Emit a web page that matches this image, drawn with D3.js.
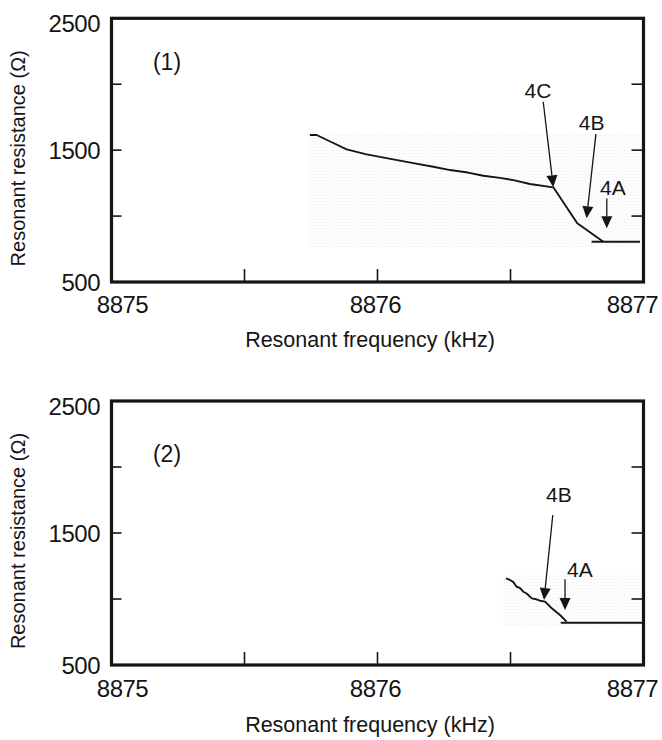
<!DOCTYPE html>
<html><head><meta charset="utf-8">
<script src="https://cdn.jsdelivr.net/npm/d3@7"></script>
<style>
body{margin:0;background:#fff}
svg{display:block}
text{font-family:"Liberation Sans",Arial,Helvetica,sans-serif;fill:#151515}
</style>
</head><body>
<svg id="chart" width="662" height="740"></svg>
<script>
// ---------- data ----------
const xDomain = [8875, 8877];
const yDomain = [500, 2500];
const xTickLabels = [8875, 8876, 8877];
const xInnerTicks = [8875.5, 8876, 8876.5];
const yTickLabels = [500, 1500, 2500];
const yInnerTicks = [1000, 1500, 2000];
const panelLabels = ["(1)", "(2)"];
const xTitle = "Resonant frequency (kHz)";
const yTitle = "Resonant resistance (\u03A9)";

// panel (1)
const freq1 = [8875.746, 8875.771, 8875.830, 8875.884, 8875.959, 8876.059, 8876.140, 8876.210, 8876.273, 8876.340, 8876.398, 8876.460, 8876.511, 8876.573, 8876.661, 8876.751, 8876.849];
const res1  = [1615, 1615, 1558, 1506, 1468, 1430, 1400, 1374, 1349, 1330, 1306, 1290, 1273, 1243, 1218, 945, 805];
const plateauFreq1 = [8876.805, 8876.987];
const plateauRes1  = [805, 805];
const shadeFreq1 = [8875.739, 8876.987];
const shadeRes1  = [766, 1629];
const annotLabels1 = ["4C", "4B", "4A"];
const annotTipF1   = [8876.661, 8876.786, 8876.862];
const annotTipR1   = [1218, 983, 907];
const annotTailF1  = [8876.623, 8876.821, 8876.862];
const annotTailR1  = [1867, 1622, 1134];
const annotTextF1  = [8876.603, 8876.805, 8876.885];
const annotTextR1  = [1895, 1653, 1159];

// panel (2)
const freq2 = [8876.483, 8876.498, 8876.510, 8876.523, 8876.535, 8876.548, 8876.562, 8876.580, 8876.597, 8876.611, 8876.630, 8876.655, 8876.686, 8876.711];
const res2  = [1157, 1144, 1130, 1093, 1085, 1055, 1040, 1005, 998, 987, 980, 930, 879, 828];
const plateauFreq2 = [8876.689, 8876.997];
const plateauRes2  = [820, 820];
const shadeFreq2 = [8876.472, 8876.987];
const shadeRes2  = [788, 1182];
const annotLabels2 = ["4B", "4A"];
const annotTipF2   = [8876.626, 8876.705];
const annotTipR2   = [992, 917];
const annotTailF2  = [8876.659, 8876.705];
const annotTailR2  = [1636, 1149];
const annotTextF2  = [8876.682, 8876.761];
const annotTextR2  = [1735, 1167];

// ---------- layout ----------
const left = 111.5, right = 643.5;
const layouts = [
  {top: 18.3, bottom: 282, labelBase: 52, titleDy: 65, tickDy: 31},
  {top: 401, bottom: 665, labelBase: 61, titleDy: 67, tickDy: 32}
];
const series = [
  {f: freq1, r: res1, pf: plateauFreq1, pr: plateauRes1, sf: shadeFreq1, sr: shadeRes1,
   al: annotLabels1, tf: annotTipF1, tr: annotTipR1, lf: annotTailF1, lr: annotTailR1, xf: annotTextF1, xr: annotTextR1},
  {f: freq2, r: res2, pf: plateauFreq2, pr: plateauRes2, sf: shadeFreq2, sr: shadeRes2,
   al: annotLabels2, tf: annotTipF2, tr: annotTipR2, lf: annotTailF2, lr: annotTailR2, xf: annotTextF2, xr: annotTextR2}
];
const xLabelShift = [11, -2, -11];
const ink = "#151515";

const svg = d3.select("#chart");
const defs = svg.append("defs");
const pat = defs.append("pattern").attr("id", "stipple")
  .attr("width", 3).attr("height", 3).attr("patternUnits", "userSpaceOnUse");
pat.append("rect").attr("width", 3).attr("height", 3).attr("fill", "#fdfdfd");
pat.append("rect").attr("width", 1).attr("height", 1).attr("fill", "#f0f0f0");

const x = d3.scaleLinear().domain(xDomain).range([left, right]);

layouts.forEach((L, i) => {
  const S = series[i];
  const y = d3.scaleLinear().domain(yDomain).range([L.bottom, L.top]);
  const g = svg.append("g");

  // faint stippled background behind the trace
  g.append("rect")
    .attr("x", x(S.sf[0])).attr("y", y(S.sr[1]))
    .attr("width", x(S.sf[1]) - x(S.sf[0])).attr("height", y(S.sr[0]) - y(S.sr[1]))
    .attr("fill", "url(#stipple)");

  // inner ticks
  const tl = 12;
  g.selectAll(".yl").data(yInnerTicks).join("line")
    .attr("x1", left).attr("x2", left + tl - 2)
    .attr("y1", d => y(d)).attr("y2", d => y(d))
    .attr("stroke", ink).attr("stroke-width", 1.6);
  g.selectAll(".yr").data(yInnerTicks).join("line")
    .attr("x1", right - tl).attr("x2", right)
    .attr("y1", d => y(d)).attr("y2", d => y(d))
    .attr("stroke", ink).attr("stroke-width", 1.6);
  g.selectAll(".xb").data(xInnerTicks).join("line")
    .attr("x1", d => x(d)).attr("x2", d => x(d))
    .attr("y1", L.bottom - tl - 1).attr("y2", L.bottom)
    .attr("stroke", ink).attr("stroke-width", 1.6);

  // frame
  g.append("rect")
    .attr("x", left).attr("y", L.top)
    .attr("width", right - left).attr("height", L.bottom - L.top)
    .attr("fill", "none").attr("stroke", ink).attr("stroke-width", 3.2);

  // y tick labels
  g.selectAll(".ytl").data(yTickLabels).join("text")
    .attr("x", 100)
    .attr("y", d => y(d) + (d === yDomain[1] ? 5 : 0))
    .attr("dy", "0.36em")
    .attr("text-anchor", "end")
    .attr("font-size", 24)
    .attr("letter-spacing", -0.5)
    .text(d => d);

  // x tick labels
  g.selectAll(".xtl").data(xTickLabels).join("text")
    .attr("x", (d, k) => x(d) + xLabelShift[k])
    .attr("y", L.bottom + L.tickDy)
    .attr("text-anchor", "middle")
    .attr("font-size", 24)
    .attr("letter-spacing", -0.5)
    .text(d => d);

  // axis titles
  g.append("text")
    .attr("x", 370).attr("y", L.bottom + L.titleDy)
    .attr("text-anchor", "middle").attr("font-size", 21.5)
    .text(xTitle);
  g.append("text")
    .attr("transform", `translate(25,${L.top + 140}) rotate(-90)`)
    .attr("text-anchor", "middle").attr("font-size", 20)
    .text(yTitle);

  // panel label
  g.append("text")
    .attr("x", 167).attr("y", L.top + L.labelBase)
    .attr("text-anchor", "middle").attr("font-size", 23)
    .text(panelLabels[i]);

  // data trace
  const line = d3.line().x(d => x(d[0])).y(d => y(d[1]));
  g.append("path")
    .datum(S.f.map((f, k) => [f, S.r[k]]))
    .attr("d", line)
    .attr("fill", "none").attr("stroke", ink)
    .attr("stroke-width", 1.9).attr("stroke-linejoin", "round");
  g.append("path")
    .datum(S.pf.map((f, k) => [f, S.pr[k]]))
    .attr("d", line)
    .attr("fill", "none").attr("stroke", ink).attr("stroke-width", 1.9);

  // annotations with arrows
  S.al.forEach((lab, k) => {
    const tx = x(S.tf[k]), ty = y(S.tr[k]);
    const sx = x(S.lf[k]), sy = y(S.lr[k]);
    const dx = tx - sx, dy = ty - sy, len = Math.hypot(dx, dy);
    const ux = dx / len, uy = dy / len;
    const hl = 12, hw = 5.5;
    const bx = tx - ux * hl, by = ty - uy * hl;
    g.append("line")
      .attr("x1", sx).attr("y1", sy).attr("x2", bx).attr("y2", by)
      .attr("stroke", ink).attr("stroke-width", 1.3);
    g.append("path")
      .attr("d", `M${tx},${ty}L${bx - uy * hw},${by + ux * hw}L${bx + uy * hw},${by - ux * hw}Z`)
      .attr("fill", ink);
    g.append("text")
      .attr("x", x(S.xf[k])).attr("y", y(S.xr[k]))
      .attr("text-anchor", "middle").attr("font-size", 21)
      .text(lab);
  });
});
</script>
</body></html>
